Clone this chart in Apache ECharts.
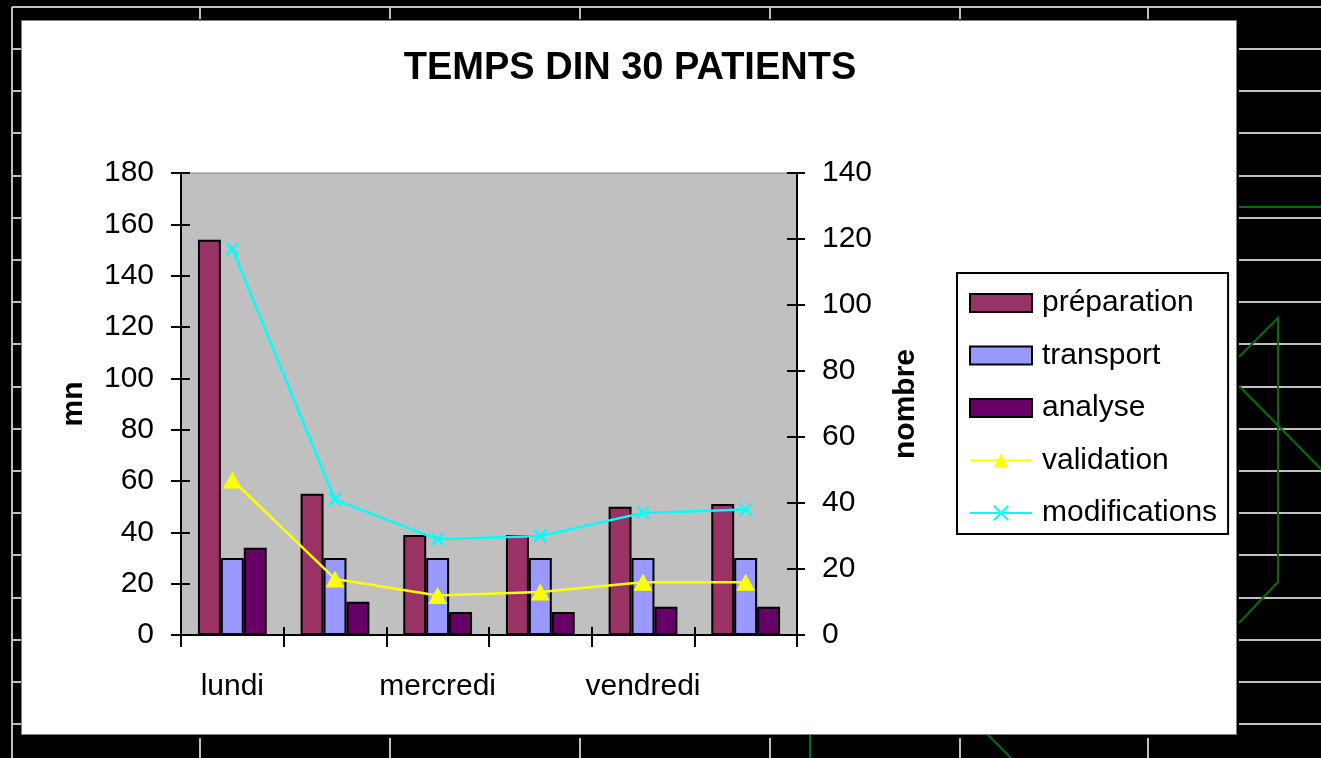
<!DOCTYPE html>
<html>
<head>
<meta charset="utf-8">
<script src="https://cdn.jsdelivr.net/npm/echarts@6/dist/echarts.min.js"></script>
<style>
html,body{margin:0;padding:0;background:#000;}
#chart{width:1321px;height:758px;}
</style>
</head>
<body>
<div id="chart"></div>
<script>
// ---- data ----
const categories = ['lundi', 'mardi', 'mercredi', 'jeudi', 'vendredi', 'samedi'];
const preparation = [154, 55, 39, 39, 50, 51];
const transport = [30, 30, 30, 30, 30, 30];
const analyse = [34, 13, 9, 9, 11, 11];
const validation = [47, 17, 12, 13, 16, 16];
const modifications = [117, 41, 29, 30, 37, 38];
const leftTicks = {min: 0, max: 180, interval: 20};
const rightTicks = {min: 0, max: 140, interval: 20};

const FONT = "'Liberation Sans', Arial, sans-serif";
const chart = echarts.init(document.getElementById('chart'));

// decorative sheet background (black with grey/green sheet lines)
const gray = '#c0c0c0';
const green = '#0b6b0b';
const deco = [];
deco.push({type:'rect', shape:{x:0,y:0,width:1321,height:758}, style:{fill:'#000'}, z:-10});
deco.push({type:'line', shape:{x1:12,y1:7,x2:1321,y2:7}, style:{stroke:gray,lineWidth:2}, z:-9});
deco.push({type:'line', shape:{x1:12,y1:7,x2:12,y2:758}, style:{stroke:gray,lineWidth:2}, z:-9});
[200, 390, 580, 770, 960, 1148].forEach(x => {
  deco.push({type:'line', shape:{x1:x,y1:7,x2:x,y2:19}, style:{stroke:gray,lineWidth:2}, z:-9});
  deco.push({type:'line', shape:{x1:x,y1:738,x2:x,y2:758}, style:{stroke:gray,lineWidth:2}, z:-9});
});
for (let k = 0; k <= 16; k++) {
  const y = Math.round(49 + 42.2 * k);
  deco.push({type:'line', shape:{x1:12,y1:y,x2:21,y2:y}, style:{stroke:gray,lineWidth:2}, z:-9});
  deco.push({type:'line', shape:{x1:1239,y1:y,x2:1321,y2:y}, style:{stroke:gray,lineWidth:2}, z:-9});
}
deco.push({type:'line', shape:{x1:1239,y1:207,x2:1321,y2:207}, style:{stroke:green,lineWidth:2}, z:-8});
deco.push({type:'polyline', shape:{points:[[1239,357],[1278,318],[1278,582],[1239,623]]}, style:{stroke:green,lineWidth:2,fill:null}, z:-8});
deco.push({type:'line', shape:{x1:1239,y1:386,x2:1321,y2:469}, style:{stroke:green,lineWidth:2}, z:-8});
deco.push({type:'line', shape:{x1:810,y1:735,x2:810,y2:758}, style:{stroke:green,lineWidth:2}, z:-8});
deco.push({type:'line', shape:{x1:988,y1:735,x2:1011,y2:758}, style:{stroke:green,lineWidth:2}, z:-8});
// white chart panel
deco.push({type:'rect', shape:{x:21.5,y:20.5,width:1215,height:714}, style:{fill:'#fff',stroke:'#808080',lineWidth:1}, z:-7});
// title
deco.push({type:'text', x:630, y:69, style:{text:'TEMPS DIN 30 PATIENTS', font:'bold 38px ' + FONT, fill:'#000', align:'center', verticalAlign:'middle'}, z:5});

const xMark = 'path://M0,0L10,10M10,0L0,10';

const baseLabel = {color:'#000', fontSize:30, fontFamily:FONT};

chart.setOption({
  animation: false,
  backgroundColor: '#000',
  graphic: deco,
  grid: {left:181, right:524, top:173, bottom:123, show:true, backgroundColor:'#c0c0c0', borderColor:'#808080', borderWidth:1, z:-1},
  legend: {
    orient: 'vertical', left: 957, top: 273,
    padding: [15, 11, 6, 12],
    backgroundColor: '#fff', borderColor: '#000', borderWidth: 2,
    itemWidth: 62, itemHeight: 18, itemGap: 22.5,
    textStyle: {color:'#000', fontSize:30, fontFamily:FONT, lineHeight:30, padding:[0,0,0,5]},
    data: [
      {name:'préparation', icon:'rect'},
      {name:'transport', icon:'rect'},
      {name:'analyse', icon:'rect'},
      {name:'validation'},
      {name:'modifications'}
    ]
  },
  xAxis: [
    {
      type:'category', data:categories, position:'bottom', boundaryGap:true,
      axisLine:{show:true, lineStyle:{color:'#000', width:2}},
      axisTick:{show:true, interval:0, length:12, lineStyle:{color:'#000', width:2}},
      axisLabel:Object.assign({interval:1, margin:37}, baseLabel)
    },
    {
      type:'category', data:categories, position:'bottom', boundaryGap:true,
      axisLine:{show:false},
      axisTick:{show:true, inside:true, interval:0, length:8, lineStyle:{color:'#000', width:2}},
      axisLabel:{show:false}
    }
  ],
  yAxis: [
    {
      type:'value', position:'left', min:leftTicks.min, max:leftTicks.max, interval:leftTicks.interval,
      name:'mn', nameLocation:'middle', nameGap:92, nameRotate:90,
      nameTextStyle:{color:'#000', fontSize:30, fontWeight:'bold', fontFamily:FONT},
      axisLine:{show:true, lineStyle:{color:'#000', width:2}},
      axisTick:{show:true, length:10, lineStyle:{color:'#000', width:2}},
      axisLabel:Object.assign({margin:27, padding:[5,0,0,0]}, baseLabel),
      splitLine:{show:false}
    },
    {
      type:'value', position:'right', min:rightTicks.min, max:rightTicks.max, interval:rightTicks.interval,
      name:'nombre', nameLocation:'middle', nameGap:94, nameRotate:90,
      nameTextStyle:{color:'#000', fontSize:30, fontWeight:'bold', fontFamily:FONT},
      axisLine:{show:true, lineStyle:{color:'#000', width:2}},
      axisTick:{show:true, length:8, lineStyle:{color:'#000', width:2}},
      axisLabel:Object.assign({margin:25, padding:[5,0,0,0]}, baseLabel),
      splitLine:{show:false}
    },
    {
      type:'value', position:'left', min:leftTicks.min, max:leftTicks.max, interval:leftTicks.interval,
      axisLine:{show:false}, axisLabel:{show:false}, splitLine:{show:false},
      axisTick:{show:true, inside:true, length:9, lineStyle:{color:'#000', width:2}}
    },
    {
      type:'value', position:'right', min:rightTicks.min, max:rightTicks.max, interval:rightTicks.interval,
      axisLine:{show:false}, axisLabel:{show:false}, splitLine:{show:false},
      axisTick:{show:true, inside:true, length:10, lineStyle:{color:'#000', width:2}}
    }
  ],
  series: [
    {name:'préparation', type:'bar', data:preparation, barGap:'0%', barCategoryGap:'33%',
     itemStyle:{color:'#993366', borderColor:'#000', borderWidth:2}},
    {name:'transport', type:'bar', data:transport, barGap:'0%', barCategoryGap:'33%',
     itemStyle:{color:'#9999ff', borderColor:'#000', borderWidth:2}},
    {name:'analyse', type:'bar', data:analyse, barGap:'0%', barCategoryGap:'33%',
     itemStyle:{color:'#660066', borderColor:'#000', borderWidth:2}},
    {name:'validation', type:'line', yAxisIndex:1, data:validation,
     symbol:'triangle', symbolSize:[19,17],
     lineStyle:{color:'#ffff00', width:2.5}, itemStyle:{color:'#ffff00', borderWidth:0}, z:4},
    {name:'modifications', type:'line', yAxisIndex:1, data:modifications,
     symbol:xMark, symbolSize:12,
     lineStyle:{color:'#00ffff', width:2.5}, itemStyle:{color:'none', borderColor:'#00ffff', borderWidth:2.5}, z:4}
  ]
});
</script>
</body>
</html>
